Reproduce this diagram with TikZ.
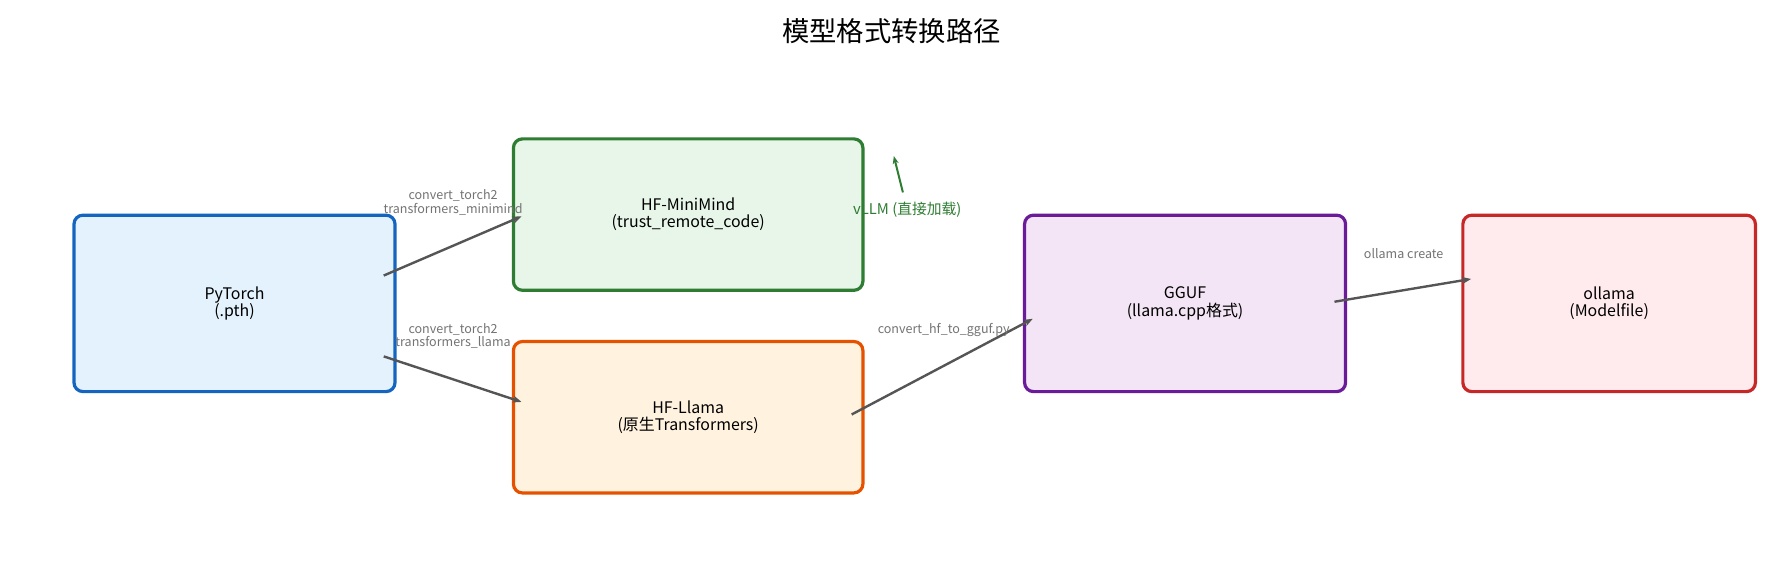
\documentclass[tikz,border=0pt]{standalone}
\usepackage{fontspec}
\setmainfont{Noto Sans CJK SC}
\usetikzlibrary{arrows.meta}
\definecolor{gbg}{HTML}{555555}
\begin{document}
\begin{tikzpicture}[x=1pt,y=-1pt,scale=1.1384,transform shape,
 box/.style={draw,line width=3.2pt,rounded corners=9pt,align=center,font=\fontsize{14}{15}\selectfont},
 conn/.style={draw=gbg,line width=2.4pt,-{Stealth[length=9pt,width=7pt]}},
 lab/.style={font=\fontsize{11}{12}\selectfont,text=gray!90!black,align=center,inner sep=0pt}]
\node[font=\fontsize{24}{26}\selectfont] (title) at (783,27) {模型格式转换路径};
\node[box,draw={rgb,255:red,21;green,101;blue,192},fill={rgb,255:red,227;green,242;blue,253},minimum width=282pt,minimum height=155pt] (pt) at (206,266.5) {PyTorch\\(.pth)};
\node[box,draw={rgb,255:red,46;green,125;blue,50},fill={rgb,255:red,232;green,245;blue,233},minimum width=307pt,minimum height=133pt] (mm) at (604.5,188.5) {HF-MiniMind\\(trust\_remote\_code)};
\node[box,draw={rgb,255:red,230;green,81;blue,0},fill={rgb,255:red,255;green,243;blue,224},minimum width=307pt,minimum height=133pt] (ll) at (604.5,366.5) {HF-Llama\\(原生Transformers)};
\node[box,draw={rgb,255:red,106;green,27;blue,154},fill={rgb,255:red,243;green,229;blue,245},minimum width=282pt,minimum height=155pt] (gg) at (1041,266.5) {GGUF\\(llama.cpp格式)};
\node[box,draw={rgb,255:red,198;green,40;blue,40},fill={rgb,255:red,255;green,235;blue,238},minimum width=257pt,minimum height=155pt] (ol) at (1413.5,266.5) {ollama\\(Modelfile)};
\coordinate (a1) at (337,242); \coordinate (b1) at (458,190);
\coordinate (a2) at (337,313); \coordinate (b2) at (458,353);
\coordinate (a3) at (748,364); \coordinate (b3) at (907,280);
\coordinate (a4) at (1172,265); \coordinate (b4) at (1292,245);
\coordinate (a5) at (793,169); \coordinate (b5) at (785,137);
\draw[conn] (a1) -- (b1);
\draw[conn] (a2) -- (b2);
\draw[conn] (a3) -- (b3);
\draw[conn] (a4) -- (b4);
\draw[line width=2pt,draw={rgb,255:red,46;green,125;blue,50},-{Stealth[length=8pt,width=6pt]}] (a5) -- (b5);
\node[lab] (l1) at (398,178) {convert\_torch2\\transformers\_minimind};
\node[lab] (l2) at (398,295) {convert\_torch2\\transformers\_llama};
\node[lab] (l3) at (829,290) {convert\_hf\_to\_gguf.py};
\node[lab] (l4) at (1233,223) {ollama create};
\node[lab,text={rgb,255:red,46;green,125;blue,50},font=\fontsize{13}{14}\selectfont] (l5) at (797,184) {vLLM (直接加载)};
\pgfresetboundingbox
\useasboundingbox (0,0) rectangle (1568,513);
\end{tikzpicture}
\end{document}
